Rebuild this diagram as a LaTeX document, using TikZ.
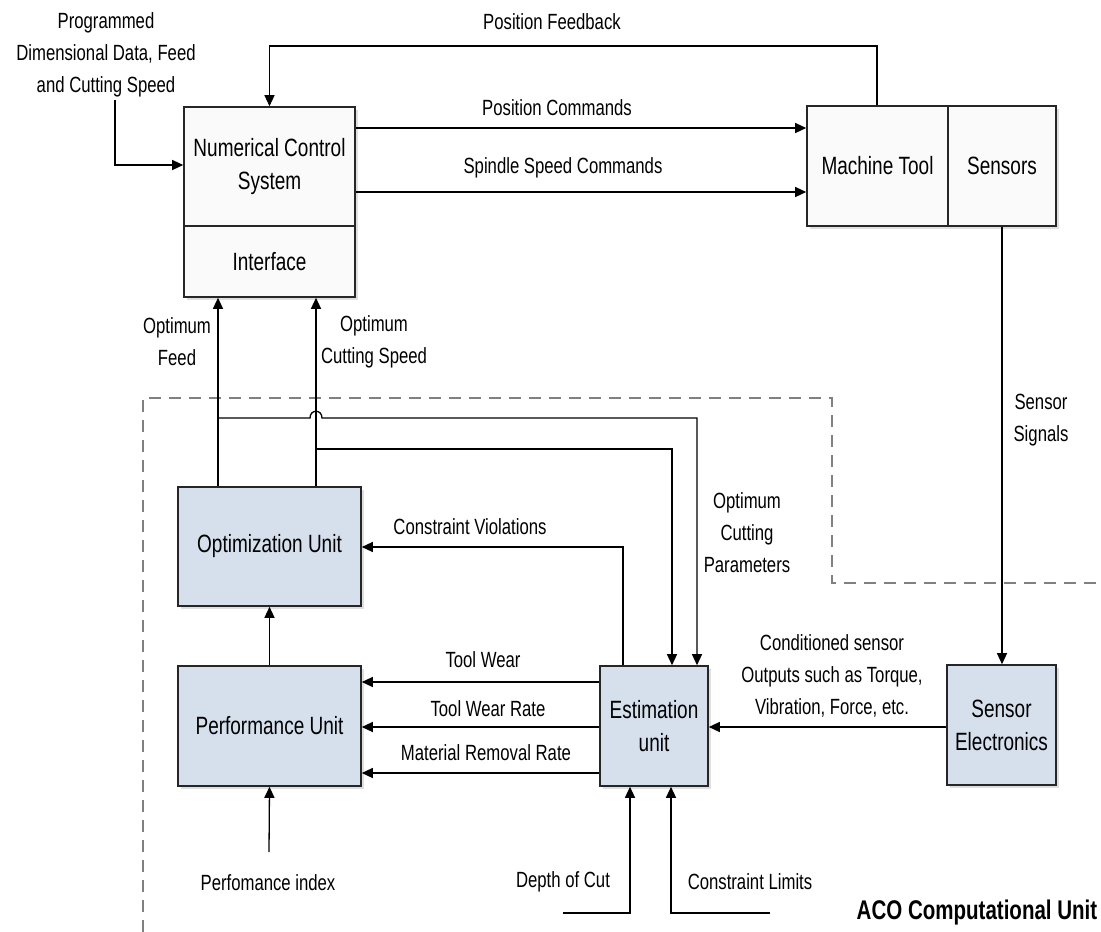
\documentclass[tikz,border=0pt]{standalone}
\usepackage{fontspec}
\setmainfont{Liberation Sans}[FakeStretch=0.76]
\usetikzlibrary{arrows.meta,shadows}
\definecolor{boxblue}{RGB}{214,224,237}
\definecolor{boxwhite}{RGB}{250,250,250}
\definecolor{dashgray}{RGB}{128,128,128}
\begin{document}
\begin{tikzpicture}[x=1pt,y=-1pt,
  box/.style={draw=black!85,line width=1.6pt,fill=boxwhite,inner sep=0pt,
    align=center,font=\fontsize{25}{33}\selectfont,
    drop shadow={shadow xshift=2.5pt,shadow yshift=-2.5pt,opacity=0.25}},
  bluebox/.style={box,fill=boxblue},
  lbl/.style={align=center,inner sep=0pt,font=\fontsize{22}{32}\selectfont},
  arr/.style={line width=1.3pt,-{Triangle[length=11pt,width=10pt]}},
  ln/.style={line width=1.3pt},
  dsh/.style={draw=dashgray,line width=1.8pt,dash pattern=on 12pt off 8pt}]
\useasboundingbox (0,0) rectangle (1101,932);
\fill[white] (0,0) rectangle (1101,932);

% dashed computational unit border
\draw[dsh] (143,932) -- (143,398) -- (832,398) -- (832,583) -- (1101,583);

% boxes
\node[box,minimum width=171pt,minimum height=119pt] (ncs) at (269.5,166.5) {Numerical Control\\System};
\node[box,minimum width=171pt,minimum height=71pt] (iface) at (269.5,261.5) {Interface};
\node[box,minimum width=141pt,minimum height=120pt] (mt) at (877.5,166) {Machine Tool};
\node[box,minimum width=108pt,minimum height=120pt] (sens) at (1002,166) {Sensors};
\node[bluebox,minimum width=183pt,minimum height=119pt] (opt) at (269.5,546.5) {Optimization Unit};
\node[bluebox,minimum width=183pt,minimum height=120pt] (perf) at (269.5,726) {Performance Unit};
\node[bluebox,minimum width=108pt,minimum height=120pt] (est) at (654,726) {Estimation\\unit};
\node[bluebox,minimum width=109pt,minimum height=120pt] (se) at (1001.5,725) {Sensor\\Electronics};

% free ends
\coordinate (in1) at (115,100);
\coordinate (pfb) at (877,46);
\coordinate (j1) at (218,418);
\coordinate (j2) at (316,449);
\coordinate (pin) at (269,852);
\coordinate (doc) at (563,913);
\coordinate (cl) at (770,913);

% top connectors
\draw[arr] (in1) |- (ncs.west |- 0,165);
\draw[arr] (mt.north -| pfb) -- (pfb) -| (ncs.north);
\draw[arr] (ncs.east |- 0,128) -- (mt.west |- 0,128);
\draw[arr] (ncs.east |- 0,192) -- (mt.west |- 0,192);
\draw[arr] (sens.south) -- (sens.south |- se.north);

% optimum outputs
\draw[arr] (opt.north -| 218,0) -- (iface.south -| 218,0);
\draw[arr] (opt.north -| 316,0) -- (iface.south -| 316,0);
\draw[arr] (j1) -- (310,418) .. controls (310,409) and (322,409) .. (322,418) -- (697,418) -- (est.north -| 697,0);
\draw[arr] (j2) -- (672,449) -- (est.north -| 672,0);

% constraint violations
\draw[arr] (est.north -| 623,0) -- (623,547) -- (opt.east |- 0,547);

% estimation to performance
\draw[arr] (est.west |- 0,682) -- (perf.east |- 0,682);
\draw[arr] (est.west |- 0,727) -- (perf.east |- 0,727);
\draw[arr] (est.west |- 0,773) -- (perf.east |- 0,773);
\draw[arr] (perf.north) -- (opt.south);
\draw[arr] (pin) -- (perf.south);

% sensor electronics to estimation
\draw[arr] (se.west |- 0,727) -- (est.east |- 0,727);

% bottom inputs
\draw[arr] (doc) -- (630,913) -- (est.south -| 630,0);
\draw[arr] (cl) -- (671,913) -- (est.south -| 671,0);

% labels
\node[lbl] (t1) at (106,55) {Programmed\\Dimensional Data, Feed\\and Cutting Speed};
\node[lbl] (t2) at (552,22) {Position Feedback};
\node[lbl] (t3) at (557,108) {Position Commands};
\node[lbl] (t4) at (563,168) {Spindle Speed Commands};
\node[lbl] (t5) at (177,342) {Optimum\\Feed};
\node[lbl] (t6) at (374,342) {Optimum\\Cutting Speed};
\node[lbl] (t7) at (1041,420) {Sensor\\Signals};
\node[lbl] (t8) at (747,533) {Optimum\\Cutting\\Parameters};
\node[lbl] (t9) at (470,527) {Constraint Violations};
\node[lbl] (t10) at (832,676) {Conditioned sensor\\Outputs such as Torque,\\Vibration, Force, etc.};
\node[lbl] (t11) at (483,660) {Tool Wear};
\node[lbl] (t12) at (488,709) {Tool Wear Rate};
\node[lbl] (t13) at (486,753) {Material Removal Rate};
\node[lbl] (t14) at (268,883) {Perfomance index};
\node[lbl] (t15) at (563,882) {Depth of Cut};
\node[lbl] (t16) at (750,882) {Constraint Limits};
\node[lbl,font=\fontsize{27}{32}\selectfont\bfseries] (t17) at (977,913) {ACO Computational Unit};
\end{tikzpicture}
\end{document}
